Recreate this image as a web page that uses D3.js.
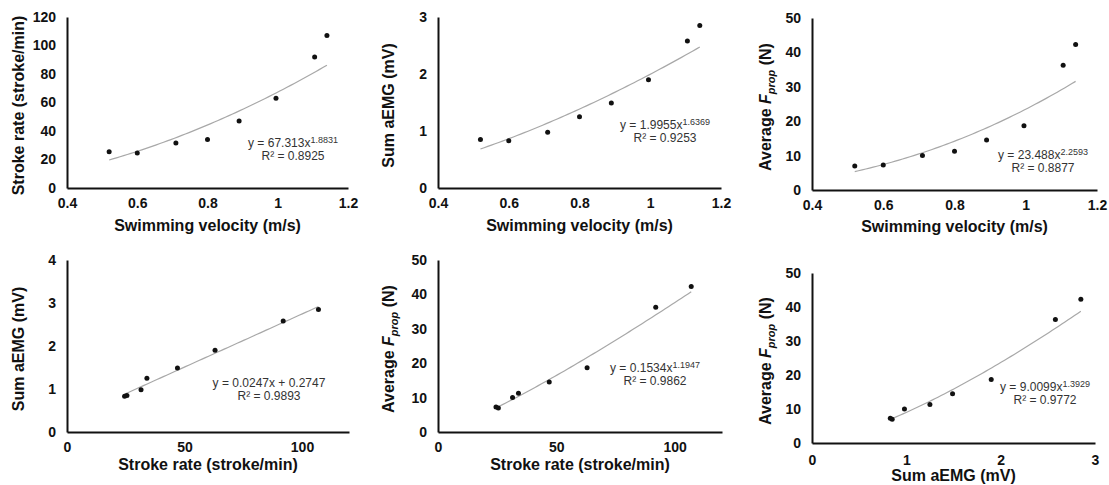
<!DOCTYPE html>
<html><head><meta charset="utf-8">
<script src="https://cdn.jsdelivr.net/npm/d3@7"></script>
<style>
body{margin:0;background:#fff;}
svg{display:block;font-family:"Liberation Sans",Arial,sans-serif;}
</style></head>
<body><svg id="c" width="1109" height="485"></svg>
<script>
// ---- data ----
const velocity   = [0.52, 0.60, 0.71, 0.80, 0.89, 0.995, 1.105, 1.14];
const strokeRate = [25.5, 24.5, 31.5, 34.0, 47.0, 63.0, 92.0, 107.0];
const sumAEMG    = [0.85, 0.83, 0.98, 1.25, 1.49, 1.90, 2.58, 2.85];
const fprop      = [7.0, 7.3, 10.0, 11.3, 14.5, 18.7, 36.3, 42.3];

const velTicks = [0.4, 0.6, 0.8, 1, 1.2];
const srTicks  = [0, 50, 100];
const emgTicksX = [0, 1, 2, 3];
const srYTicks = [0, 20, 40, 60, 80, 100, 120];
const emgYTicks3 = [0, 1, 2, 3];
const emgYTicks4 = [0, 1, 2, 3, 4];
const fYTicks = [0, 10, 20, 30, 40, 50];

// fitted trend lines: type, a, b (power: a*x^b ; linear: a*x+b)
const fits = [
  {type:"power", a:67.313, b:1.8831, eq:["y = 67.313x","1.8831"], r2:"R² = 0.8925"},
  {type:"power", a:1.9955, b:1.6369, eq:["y = 1.9955x","1.6369"], r2:"R² = 0.9253"},
  {type:"power", a:23.488, b:2.2593, eq:["y = 23.488x","2.2593"], r2:"R² = 0.8877"},
  {type:"linear", a:0.0247, b:0.2747, eq:["y = 0.0247x + 0.2747",""], r2:"R² = 0.9893"},
  {type:"power", a:0.1534, b:1.1947, eq:["y = 0.1534x","1.1947"], r2:"R² = 0.9862"},
  {type:"power", a:9.0099, b:1.3929, eq:["y = 9.0099x","1.3929"], r2:"R² = 0.9772"}
];

// ---- layout ----
const panels = [
  {x:velocity, y:strokeRate, xd:[0.4,1.2], yd:[0,120], xt:velTicks, yt:srYTicks, box:[67,17,348,188],
   xl:"Swimming velocity (m/s)", yl:"Stroke rate (stroke/min)", eqPos:[293,147], xlY:231, ylX:24, xpad:10},
  {x:velocity, y:sumAEMG, xd:[0.4,1.2], yd:[0,3], xt:velTicks, yt:emgYTicks3, box:[438,17,721,188],
   xl:"Swimming velocity (m/s)", yl:"Sum aEMG (mV)", eqPos:[665,129], xlY:231, ylX:394, xpad:10},
  {x:velocity, y:fprop, xd:[0.4,1.2], yd:[0,50], xt:velTicks, yt:fYTicks, box:[812,18,1097,190],
   xl:"Swimming velocity (m/s)", yl:"F", eqPos:[1043,159], xlY:232, ylX:771, xpad:10},
  {x:strokeRate, y:sumAEMG, xd:[0,120], yd:[0,4], xt:srTicks, yt:emgYTicks4, box:[67,260,349,432],
   xl:"Stroke rate (stroke/min)", yl:"Sum aEMG (mV)", eqPos:[269,387], xlY:470, ylX:24, xpad:10},
  {x:strokeRate, y:fprop, xd:[0,120], yd:[0,50], xt:srTicks, yt:fYTicks, box:[438,260,722,432],
   xl:"Stroke rate (stroke/min)", yl:"F", eqPos:[655,372], xlY:470, ylX:394, xpad:10},
  {x:sumAEMG, y:fprop, xd:[0,3], yd:[0,50], xt:emgTicksX, yt:fYTicks, box:[812,273,1095,443],
   xl:"Sum aEMG (mV)", yl:"F", eqPos:[1045,391], xlY:481, ylX:771, xpad:12}
];

const svg = d3.select("#c");

panels.forEach((p, i) => {
  const [l, t, r, b] = p.box;
  const xs = d3.scaleLinear().domain(p.xd).range([l, r]);
  const ys = d3.scaleLinear().domain(p.yd).range([b, t]);
  const g = svg.append("g");

  // axes
  const xa = g.append("g").attr("transform", `translate(0,${b})`)
    .call(d3.axisBottom(xs).tickValues(p.xt).tickSize(0).tickPadding(p.xpad).tickFormat(d3.format("~g")));
  const ya = g.append("g").attr("transform", `translate(${l},0)`)
    .call(d3.axisLeft(ys).tickValues(p.yt).tickSize(0).tickPadding(11).tickFormat(d3.format("~g")));
  [xa, ya].forEach(a => {
    a.select(".domain").attr("stroke", "#111").attr("stroke-width", 2);
    a.selectAll("text").attr("font-size", 14).attr("font-weight", "bold").attr("fill", "#111");
  });

  // trend line
  const f = fits[i];
  const xmin = d3.min(p.x), xmax = d3.max(p.x);
  const fx = v => f.type === "power" ? f.a * Math.pow(v, f.b) : f.a * v + f.b;
  const samples = d3.range(0, 61).map(k => xmin + (xmax - xmin) * k / 60);
  g.append("path")
    .attr("d", d3.line().x(v => xs(v)).y(v => ys(fx(v)))(samples))
    .attr("fill", "none").attr("stroke", "#a8a8a8").attr("stroke-width", 1.2);

  // points
  g.selectAll("circle").data(p.x.map((v, k) => [v, p.y[k]])).join("circle")
    .attr("cx", d => xs(d[0])).attr("cy", d => ys(d[1])).attr("r", 2.5).attr("fill", "#111");

  // equation
  const eq = g.append("text").attr("x", p.eqPos[0]).attr("y", p.eqPos[1])
    .attr("text-anchor", "middle").attr("font-size", 12).attr("fill", "#333");
  eq.append("tspan").text(f.eq[0]);
  if (f.eq[1]) eq.append("tspan").attr("dy", -4.5).attr("font-size", 9).text(f.eq[1]);
  g.append("text").attr("x", p.eqPos[0]).attr("y", p.eqPos[1] + 13)
    .attr("text-anchor", "middle").attr("font-size", 12).attr("fill", "#333").text(f.r2);

  // axis titles
  g.append("text").attr("x", (l + r) / 2).attr("y", p.xlY).attr("text-anchor", "middle")
    .attr("font-size", 16).attr("font-weight", "bold").attr("fill", "#111").text(p.xl);
  const yt = g.append("text").attr("transform", `translate(${p.ylX},${(t + b) / 2 + 3}) rotate(-90)`)
    .attr("text-anchor", "middle").attr("font-size", 16).attr("font-weight", "bold").attr("fill", "#111");
  if (p.yl === "F") {
    yt.append("tspan").text("Average ");
    yt.append("tspan").attr("font-style", "italic").text("F");
    yt.append("tspan").attr("font-style", "italic").attr("font-size", 11).attr("dy", 4).text("prop");
    yt.append("tspan").attr("dy", -4).text(" (N)");
  } else {
    yt.text(p.yl);
  }
});
</script></body></html>
